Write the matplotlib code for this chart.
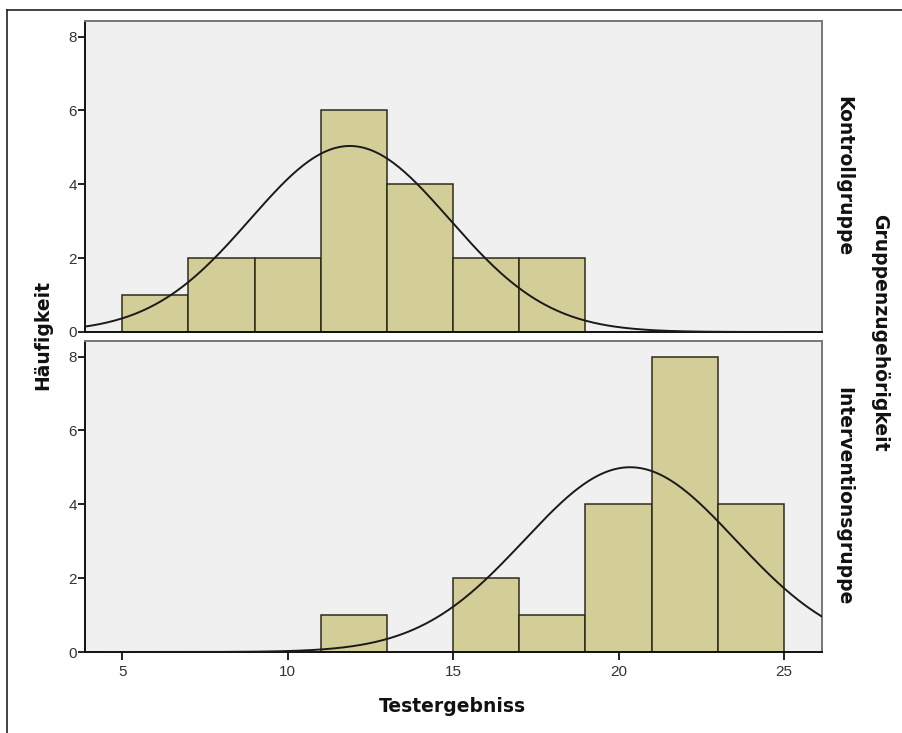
import numpy as np
import matplotlib.pyplot as plt
from matplotlib.lines import Line2D

# Data (bins of width 2)
bin_edges = [5, 7, 9, 11, 13, 15, 17, 19, 21, 23, 25]
groups = ['Kontrollgruppe', 'Interventionsgruppe']
counts_kontroll = [1, 2, 2, 6, 4, 2, 2, 0, 0, 0]
counts_intervention = [0, 0, 0, 1, 0, 2, 1, 4, 8, 4]
# normal curve parameters (mean, sd, n)
curve_kontroll = (11.88, 3.01, 19)
curve_intervention = (20.35, 3.19, 20)

bar_color = '#D3CE98'
panel_bg = '#F0F0F0'
tick_col = '#333333'

plt.rcParams['font.family'] = ['Liberation Sans', 'DejaVu Sans']

fig = plt.figure(figsize=(9.03, 7.33), dpi=100)

# outer frame (only top and left are visible in the reference)
fig.add_artist(Line2D([7/903, 7/903], [0, 1 - 10/733], transform=fig.transFigure, color='#222222', lw=1.2))
fig.add_artist(Line2D([7/903, 1], [1 - 10/733, 1 - 10/733], transform=fig.transFigure, color='#222222', lw=1.2))

left, width = 85.5/903, (822 - 85.5)/903
height = 311/733
ax_top = fig.add_axes([left, 1 - 332/733, width, height])
ax_bot = fig.add_axes([left, 1 - 652/733, width, height])

xs = np.linspace(3.89, 26.15, 400)
widths = np.diff(bin_edges)
label_font = dict(fontsize=13.5, fontweight='bold', family='DejaVu Sans', color='#111111')

for ax, counts, (mu, sd, n), name in [(ax_top, counts_kontroll, curve_kontroll, groups[0]),
                                      (ax_bot, counts_intervention, curve_intervention, groups[1])]:
    ax.set_facecolor(panel_bg)
    for x0, w, c in zip(bin_edges[:-1], widths, counts):
        if c > 0:
            ax.bar(x0, c, width=w, align='edge', color=bar_color, edgecolor='#2b2b1a', linewidth=1.1, zorder=2)
    ys = n * 2 * np.exp(-(xs - mu) ** 2 / (2 * sd ** 2)) / (sd * np.sqrt(2 * np.pi))
    ax.plot(xs, ys, color='#1a1a1a', lw=1.4, zorder=3)
    ax.set_xlim(3.89, 26.15)
    ax.set_ylim(0, 8.42)
    ax.set_yticks([0, 2, 4, 6, 8])
    for side in ['top', 'right']:
        ax.spines[side].set_color('#777777')
        ax.spines[side].set_linewidth(1.4)
    for side in ['left', 'bottom']:
        ax.spines[side].set_color('#111111')
        ax.spines[side].set_linewidth(1.4)
    ax.tick_params(axis='y', direction='out', length=5, width=1.4, color='#222222',
                   labelsize=11, labelcolor=tick_col, pad=1)
    ax.text(1.016, 0.5, name, transform=ax.transAxes, rotation=-90, ha='left', va='center', **label_font)

ax_top.set_xticks([])
ax_bot.set_xticks([5, 10, 15, 20, 25])
ax_bot.tick_params(axis='x', direction='out', length=6, width=1.4, color='#222222',
                   labelsize=11, labelcolor=tick_col, pad=3)

fig.text(452/903, 1 - 706/733, 'Testergebniss', ha='center', va='center', **label_font)
fig.text(43/903, 1 - 335/733, 'Häufigkeit', ha='center', va='center', rotation=90, **label_font)
fig.text(880/903, 1 - 333/733, 'Gruppenzugehörigkeit', ha='center', va='center', rotation=-90, **label_font)

fig.savefig('out.png', dpi=100)
